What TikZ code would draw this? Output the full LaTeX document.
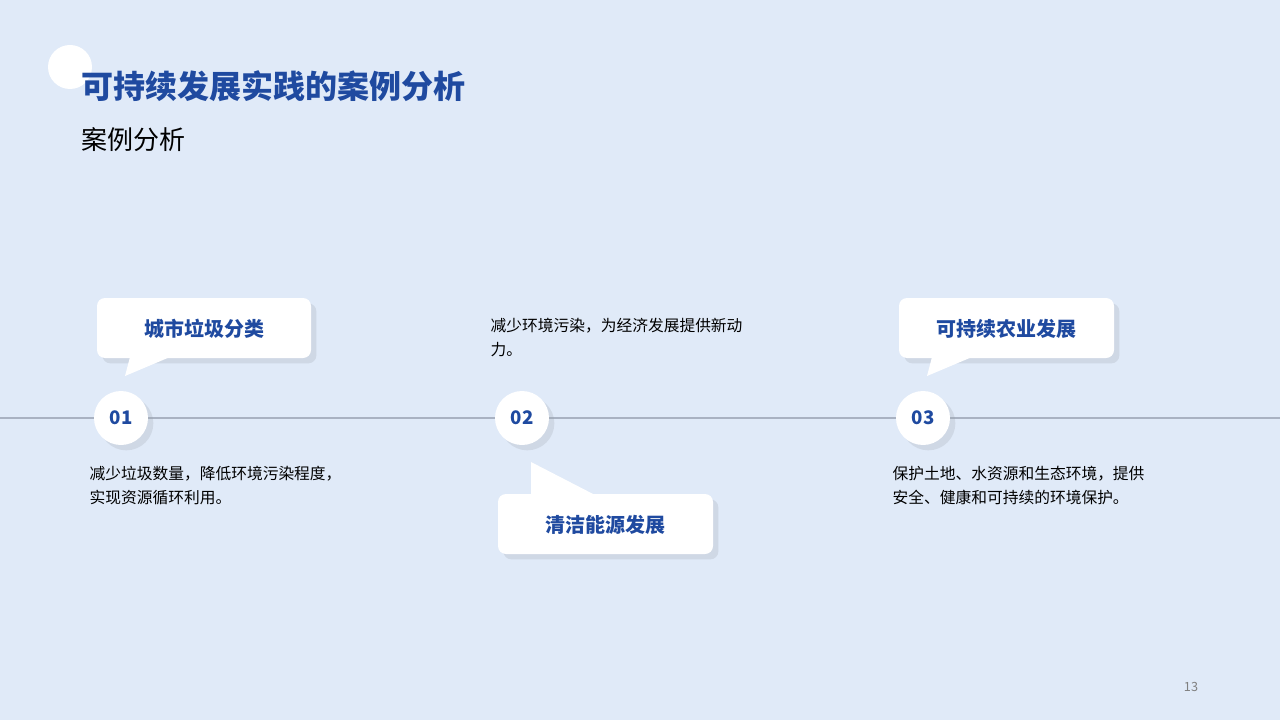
\documentclass[tikz,border=0pt]{standalone}
\usepackage{fontspec}
\setmainfont{Noto Sans CJK SC}
\usetikzlibrary{shadows}
\definecolor{bgblue}{HTML}{E0EAF8}
\definecolor{titleblue}{HTML}{1F4AA0}
\definecolor{linegray}{HTML}{A9B2C2}
\begin{document}
\begin{tikzpicture}[x=0.75pt,y=-0.75pt,
  softshadow/.style={drop shadow={shadow xshift=4pt,shadow yshift=-4pt,fill=black!30!bgblue,opacity=.25}},
  numdot/.style={circle,fill=white,minimum size=40.5pt,inner sep=0pt,softshadow,
    font=\bfseries\fontsize{14}{16}\selectfont,text=titleblue},
  labelsty/.style={font=\bfseries\fontsize{15}{18}\selectfont,text=titleblue},
  bodysty/.style={anchor=north west,align=left,font=\fontsize{11.8}{18.5}\selectfont,text=black}]
  \fill[bgblue] (0,0) rectangle (1280,720);
  \useasboundingbox (0,0) rectangle (1280,720);
  % title
  \fill[white] (70,67) circle (22);
  \node[anchor=west,font=\bfseries\fontsize{24}{28}\selectfont,text=titleblue] (title) at (77,86) {可持续发展实践的案例分析};
  \node[anchor=west,font=\fontsize{19.5}{23}\selectfont] (subtitle) at (77,140) {案例分析};
  % timeline
  \draw[linegray,line width=0.8pt] (0,418) -- (1280,418);
  \node[numdot] (d1) at (121,418) {01};
  \node[numdot] (d2) at (522,418) {02};
  \node[numdot] (d3) at (923,418) {03};
  % callouts
  \fill[white,rounded corners=6pt,softshadow] (97,298) rectangle (311,358);
  \fill[white] (130,357) -- (125,376) -- (170,357) -- cycle;
  \node[labelsty] (c1) at (204,329) {城市垃圾分类};
  \fill[white,rounded corners=6pt,softshadow] (498,494) rectangle (713,554);
  \fill[white] (531,495) -- (531,462) -- (595,495) -- cycle;
  \node[labelsty] (c2) at (605,525) {清洁能源发展};
  \fill[white,rounded corners=6pt,softshadow] (899,298) rectangle (1114,358);
  \fill[white] (932,357) -- (927,376) -- (972,357) -- cycle;
  \node[labelsty] (c3) at (1006,329) {可持续农业发展};
  % texts
  \node[bodysty] (t1) at (85,461) {减少垃圾数量，降低环境污染程度，\\实现资源循环利用。};
  \node[bodysty] (t2) at (486,313) {减少环境污染，为经济发展提供新动\\力。};
  \node[bodysty] (t3) at (888,461) {保护土地、水资源和生态环境，提供\\安全、健康和可持续的环境保护。};
  \node[text=gray,font=\fontsize{9.5}{11}\selectfont] (page) at (1191,687) {13};
\end{tikzpicture}
\end{document}
